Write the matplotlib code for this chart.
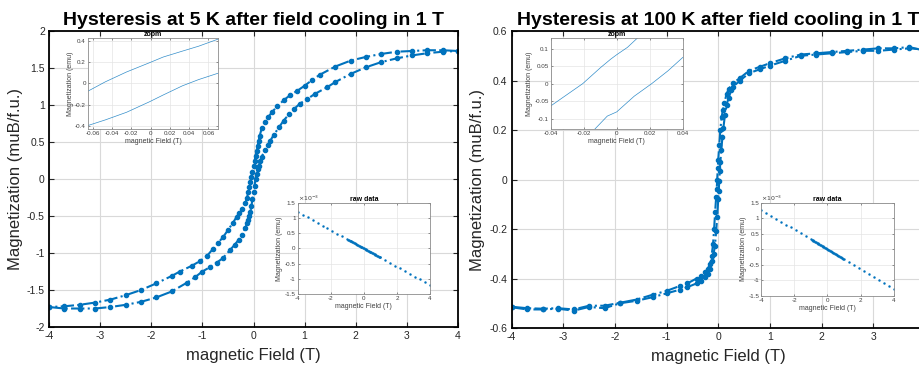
import matplotlib
matplotlib.use('Agg')
import matplotlib.pyplot as plt
from matplotlib.ticker import FuncFormatter

plt.rcParams['font.family'] = ['Liberation Sans', 'DejaVu Sans']
plt.rcParams['axes.unicode_minus'] = False

blue = '#0072BD'

# ---- 5 K loop (muB/f.u.) ----
H5_down = [4.0, 3.7, 3.4, 3.1, 2.8, 2.5, 2.2, 1.9, 1.6, 1.3,
           1.15, 1.0, 0.85, 0.72, 0.6, 0.46, 0.37, 0.29, 0.22, 0.16,
           0.12, 0.10, 0.08, 0.06, 0.04, 0.02, 0.0, -0.02, -0.04, -0.06,
           -0.08, -0.10, -0.13, -0.16, -0.22, -0.28, -0.33, -0.40, -0.50, -0.59,
           -0.70, -0.80, -0.91, -1.05, -1.20, -1.44, -1.6, -1.9, -2.2, -2.5,
           -2.8, -3.1, -3.4, -3.7, -4.0]
M5_down = [1.73, 1.74, 1.74, 1.73, 1.72, 1.69, 1.65, 1.60, 1.52, 1.41,
           1.34, 1.26, 1.19, 1.135, 1.07, 0.98, 0.91, 0.84, 0.77, 0.685,
           0.58, 0.52, 0.45, 0.38, 0.31, 0.245, 0.18, 0.10, 0.03, -0.045,
           -0.11, -0.17, -0.26, -0.33, -0.40, -0.46, -0.51, -0.59, -0.69, -0.78,
           -0.87, -0.95, -1.04, -1.11, -1.17, -1.25, -1.31, -1.41, -1.50, -1.57,
           -1.63, -1.67, -1.70, -1.72, -1.73]
H5_up = [-4.0, -3.7, -3.4, -3.1, -2.8, -2.5, -2.2, -1.9, -1.6, -1.3,
         -1.15, -1.0, -0.85, -0.72, -0.6, -0.46, -0.37, -0.29, -0.22, -0.16,
         -0.12, -0.10, -0.08, -0.06, -0.04, -0.02, 0.0, 0.02, 0.04, 0.06,
         0.08, 0.10, 0.13, 0.16, 0.22, 0.28, 0.33, 0.40, 0.50, 0.59,
         0.70, 0.80, 0.91, 1.05, 1.20, 1.44, 1.6, 1.9, 2.2, 2.5,
         2.8, 3.1, 3.4, 3.7, 4.0]
M5_up = [-1.73, -1.75, -1.75, -1.75, -1.73, -1.70, -1.66, -1.60, -1.52, -1.40,
         -1.33, -1.25, -1.19, -1.13, -1.07, -0.96, -0.89, -0.82, -0.75, -0.66,
         -0.59, -0.56, -0.50, -0.44, -0.36, -0.27, -0.18, -0.09, 0.0, 0.07,
         0.13, 0.17, 0.24, 0.30, 0.39, 0.46, 0.52, 0.60, 0.70, 0.79,
         0.88, 0.95, 1.02, 1.08, 1.15, 1.24, 1.31, 1.42, 1.51, 1.58,
         1.63, 1.67, 1.70, 1.72, 1.73]

# ---- 100 K loop ----
H100_down = [4.0, 3.7, 3.4, 3.1, 2.8, 2.5, 2.2, 1.9, 1.6, 1.3,
             1.0, 0.8, 0.6, 0.42, 0.29, 0.2, 0.16, 0.12, 0.09, 0.066,
             0.04, 0.02, 0.0, -0.01, -0.02, -0.03, -0.04, -0.06, -0.08, -0.10,
             -0.13, -0.16, -0.20, -0.25, -0.33, -0.42, -0.6, -0.74, -1.0, -1.26,
             -1.58, -1.9, -2.2, -2.5, -2.8, -3.1, -3.4, -3.7, -4.0]
M100_down = [0.52, 0.535, 0.53, 0.53, 0.525, 0.52, 0.515, 0.51, 0.505, 0.49,
             0.47, 0.455, 0.44, 0.41, 0.39, 0.365, 0.345, 0.31, 0.28, 0.254,
             0.20, 0.14, 0.08, 0.045, 0.0, -0.04, -0.07, -0.13, -0.20, -0.26,
             -0.31, -0.34, -0.36, -0.375, -0.39, -0.40, -0.42, -0.43, -0.45, -0.465,
             -0.485, -0.498, -0.51, -0.51, -0.525, -0.52, -0.522, -0.52, -0.514]
H100_up = [-4.0, -3.7, -3.4, -3.1, -2.8, -2.5, -2.2, -1.9, -1.58, -1.26,
           -1.0, -0.74, -0.6, -0.42, -0.33, -0.25, -0.2, -0.16, -0.12, -0.09,
           -0.066, -0.04, -0.02, 0.0, 0.01, 0.02, 0.03, 0.04, 0.06, 0.08,
           0.10, 0.13, 0.16, 0.20, 0.25, 0.29, 0.42, 0.6, 0.8, 1.0,
           1.3, 1.6, 1.9, 2.2, 2.5, 2.8, 3.1, 3.4, 3.7, 4.0]
M100_up = [-0.516, -0.525, -0.525, -0.522, -0.53, -0.515, -0.52, -0.50, -0.49, -0.475,
           -0.46, -0.445, -0.435, -0.42, -0.41, -0.395, -0.38, -0.36, -0.33, -0.30,
           -0.27, -0.21, -0.15, -0.08, -0.045, -0.005, 0.035, 0.07, 0.12, 0.17,
           0.21, 0.26, 0.30, 0.33, 0.36, 0.375, 0.40, 0.43, 0.445, 0.46,
           0.48, 0.50, 0.505, 0.51, 0.515, 0.52, 0.52, 0.525, 0.53, 0.525]

# ---- zoom insets (low field) ----
zoom5_H_up = [-0.07, -0.065, -0.047, -0.025, -0.001, 0.013, 0.033, 0.050, 0.069, 0.075]
zoom5_M_up = [-0.095, -0.072, 0.016, 0.109, 0.197, 0.25, 0.306, 0.353, 0.416, 0.435]
zoom5_H_lo = [-0.07, -0.065, -0.047, -0.025, -0.001, 0.013, 0.033, 0.050, 0.069, 0.075]
zoom5_M_lo = [-0.41, -0.397, -0.344, -0.272, -0.172, -0.109, -0.022, 0.0375, 0.094, 0.11]

zoom100_H_up = [-0.045, -0.04, -0.03, -0.0206, -0.0098, -0.0037, 0.0, 0.0065, 0.0126, 0.016]
zoom100_M_up = [-0.085, -0.064, -0.031, 0.0, 0.046, 0.070, 0.083, 0.104, 0.131, 0.15]
zoom100_H_lo = [-0.016, -0.0132, -0.0057, 0.0, 0.0106, 0.0212, 0.031, 0.04, 0.045]
zoom100_M_lo = [-0.15, -0.13, -0.093, -0.081, -0.036, 0.0, 0.0365, 0.075, 0.09]

# ---- raw data insets (emu) ----
raw_H = [-4.0, -3.7, -3.4, -3.1, -2.8, -2.5, -2.2, -1.9, -1.6, -1.3,
         -1.0, -0.95, -0.9, -0.85, -0.8, -0.75, -0.7, -0.65, -0.6, -0.55,
         -0.5, -0.45, -0.4, -0.35, -0.3, -0.25, -0.2, -0.15, -0.1, -0.05,
         0.0, 0.05, 0.1, 0.15, 0.2, 0.25, 0.3, 0.35, 0.4, 0.45,
         0.5, 0.55, 0.6, 0.65, 0.7, 0.75, 0.8, 0.85, 0.9, 0.95,
         1.0, 1.3, 1.6, 1.9, 2.2, 2.5, 2.8, 3.1, 3.4, 3.7, 4.0]
raw5_m = [1.20e-3, 1.11e-3, 1.02e-3, 0.93e-3, 0.84e-3, 0.75e-3, 0.66e-3, 0.57e-3, 0.48e-3, 0.39e-3,
          0.30e-3, 0.285e-3, 0.27e-3, 0.255e-3, 0.24e-3, 0.225e-3, 0.21e-3, 0.195e-3, 0.18e-3, 0.165e-3,
          0.15e-3, 0.135e-3, 0.12e-3, 0.105e-3, 0.09e-3, 0.075e-3, 0.06e-3, 0.045e-3, 0.03e-3, 0.015e-3,
          0.0, -0.015e-3, -0.03e-3, -0.045e-3, -0.06e-3, -0.075e-3, -0.09e-3, -0.105e-3, -0.12e-3, -0.135e-3,
          -0.15e-3, -0.165e-3, -0.18e-3, -0.195e-3, -0.21e-3, -0.225e-3, -0.24e-3, -0.255e-3, -0.27e-3, -0.285e-3,
          -0.30e-3, -0.39e-3, -0.48e-3, -0.57e-3, -0.66e-3, -0.75e-3, -0.84e-3, -0.93e-3, -1.02e-3, -1.11e-3, -1.20e-3]
raw100_m = [1.27e-3, 1.175e-3, 1.08e-3, 0.985e-3, 0.89e-3, 0.795e-3, 0.70e-3, 0.605e-3, 0.51e-3, 0.415e-3,
            0.32e-3, 0.304e-3, 0.288e-3, 0.272e-3, 0.256e-3, 0.24e-3, 0.224e-3, 0.208e-3, 0.192e-3, 0.176e-3,
            0.16e-3, 0.144e-3, 0.128e-3, 0.112e-3, 0.096e-3, 0.08e-3, 0.064e-3, 0.048e-3, 0.032e-3, 0.016e-3,
            0.0, -0.016e-3, -0.032e-3, -0.048e-3, -0.064e-3, -0.08e-3, -0.096e-3, -0.112e-3, -0.128e-3, -0.144e-3,
            -0.16e-3, -0.176e-3, -0.192e-3, -0.208e-3, -0.224e-3, -0.24e-3, -0.256e-3, -0.272e-3, -0.288e-3, -0.304e-3,
            -0.32e-3, -0.415e-3, -0.51e-3, -0.605e-3, -0.70e-3, -0.795e-3, -0.89e-3, -0.985e-3, -1.08e-3, -1.175e-3, -1.27e-3]

fmt_g = FuncFormatter(lambda v, p: '%g' % round(v, 6))
fmt_e3 = FuncFormatter(lambda v, p: '%g' % round(v * 1e3, 6))

fig = plt.figure(figsize=(9.2, 3.7), dpi=100)


def main_axes(rect, title, ylim, yticks, down, up):
    ax = fig.add_axes(rect)
    ax.plot(down[0], down[1], '-.', marker='.', color=blue, lw=1.5, ms=6)
    ax.plot(up[0], up[1], '-.', marker='.', color=blue, lw=1.5, ms=6)
    ax.set_xlim(-4, 4)
    ax.set_ylim(*ylim)
    ax.set_xticks(range(-4, 5))
    ax.set_yticks(yticks)
    ax.xaxis.set_major_formatter(fmt_g)
    ax.yaxis.set_major_formatter(fmt_g)
    ax.grid(True, color='#d9d9d9', lw=0.8)
    ax.set_axisbelow(True)
    ax.tick_params(direction='in', top=True, right=True, length=3.5, width=0.8,
                   labelsize=7.5, colors='#262626', pad=3)
    for s in ax.spines.values():
        s.set_linewidth(1.3)
        s.set_color('black')
    ax.set_title(title, fontsize=14, fontweight='bold', pad=4)
    ax.set_xlabel('magnetic Field (T)', fontsize=12, color='#262626', labelpad=5)
    ax.set_ylabel('Magnetization (muB/f.u.)', fontsize=12, color='#262626', labelpad=3)
    return ax


def inset(rect, title):
    ax = fig.add_axes(rect)
    ax.grid(True, color='#e4e4e4', lw=0.5)
    ax.set_axisbelow(True)
    ax.tick_params(direction='in', top=True, right=True, length=1.5, width=0.4,
                   labelsize=4.5, colors='#404040', pad=1.5)
    for s in ax.spines.values():
        s.set_linewidth(0.6)
        s.set_color('#8c8c8c')
    ax.set_title(title, fontsize=5, fontweight='bold', pad=1.5)
    ax.set_xlabel('magnetic Field (T)', fontsize=5, color='#404040', labelpad=1.5)
    ax.set_ylabel('Magnetization (emu)', fontsize=5, color='#404040', labelpad=1)
    ax.xaxis.set_major_formatter(fmt_g)
    ax.yaxis.set_major_formatter(fmt_g)
    return ax


# left panel
main_axes([0.0533, 0.1162, 0.4445, 0.80],
          'Hysteresis at 5 K after field cooling in 1 T',
          (-2, 2), [-2, -1.5, -1, -0.5, 0, 0.5, 1, 1.5, 2],
          (H5_down, M5_down), (H5_up, M5_up))

z = inset([0.0957, 0.6514, 0.1413, 0.2459], 'zopm')
z.plot(zoom5_H_up, zoom5_M_up, color=blue, lw=0.5, alpha=0.8)
z.plot(zoom5_H_lo, zoom5_M_lo, color=blue, lw=0.5, alpha=0.8)
z.set_xlim(-0.065, 0.07)
z.set_ylim(-0.43, 0.43)
z.set_xticks([-0.06, -0.04, -0.02, 0, 0.02, 0.04, 0.06])
z.set_yticks([-0.4, -0.2, 0, 0.2, 0.4])

r = inset([0.3236, 0.2054, 0.1438, 0.2468], 'raw data')
r.plot(raw_H, raw5_m, '.', color=blue, ms=1.5)
r.set_xlim(-4, 4)
r.set_ylim(-1.5e-3, 1.5e-3)
r.set_xticks([-4, -2, 0, 2, 4])
r.set_yticks([-1.5e-3, -1e-3, -0.5e-3, 0, 0.5e-3, 1e-3, 1.5e-3])
r.yaxis.set_major_formatter(fmt_e3)
r.text(0.0, 1.0, r'$\times10^{-3}$', transform=r.transAxes, fontsize=4.5,
       color='#404040', ha='left', va='bottom')

# right panel
main_axes([0.556, 0.1135, 0.4494, 0.8027],
          'Hysteresis at 100 K after field cooling in 1 T',
          (-0.6, 0.6), [-0.6, -0.4, -0.2, 0, 0.2, 0.4, 0.6],
          (H100_down, M100_down), (H100_up, M100_up))

z = inset([0.5986, 0.6514, 0.1435, 0.2451], 'zopm')
z.plot(zoom100_H_up, zoom100_M_up, color=blue, lw=0.5, alpha=0.8)
z.plot(zoom100_H_lo, zoom100_M_lo, color=blue, lw=0.5, alpha=0.8)
z.set_xlim(-0.04, 0.04)
z.set_ylim(-0.13, 0.13)
z.set_xticks([-0.04, -0.02, 0, 0.02, 0.04])
z.set_yticks([-0.1, -0.05, 0, 0.05, 0.1])

r = inset([0.8275, 0.2008, 0.1439, 0.2514], 'raw data')
r.plot(raw_H, raw100_m, '.', color=blue, ms=1.5)
r.set_xlim(-4, 4)
r.set_ylim(-1.5e-3, 1.5e-3)
r.set_xticks([-4, -2, 0, 2, 4])
r.set_yticks([-1.5e-3, -1e-3, -0.5e-3, 0, 0.5e-3, 1e-3, 1.5e-3])
r.yaxis.set_major_formatter(fmt_e3)
r.text(0.0, 1.0, r'$\times10^{-3}$', transform=r.transAxes, fontsize=4.5,
       color='#404040', ha='left', va='bottom')

fig.savefig('out.png', dpi=100)
